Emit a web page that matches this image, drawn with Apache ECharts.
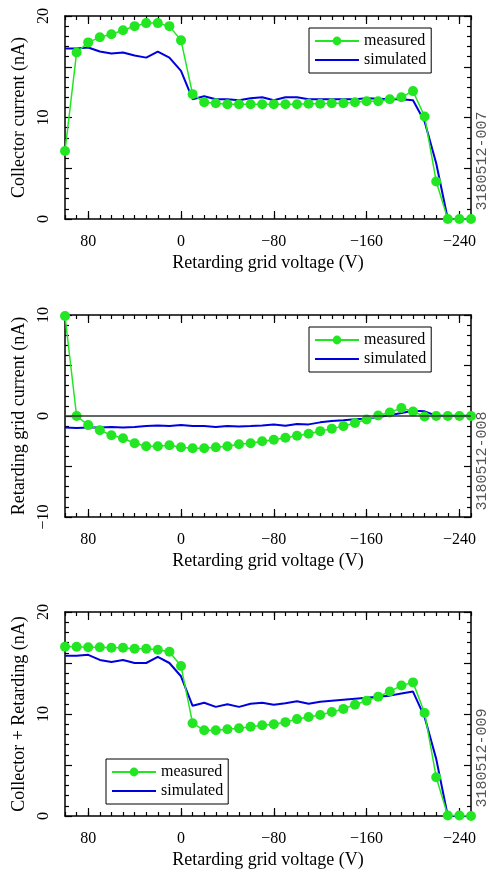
<!DOCTYPE html>
<html>
<head>
<meta charset="utf-8">
<script src="https://cdn.jsdelivr.net/npm/echarts@6/dist/echarts.min.js"></script>
<style>
html,body{margin:0;padding:0;background:#fff;}
#chart{width:487px;height:871px;}
</style>
</head>
<body>
<div id="chart"></div>
<script>
// Retarding grid voltage (V)
var voltages = [100, 90, 80, 70, 60, 50, 40, 30, 20, 10, 0, -10, -20, -30, -40, -50, -60, -70, -80, -90,
  -100, -110, -120, -130, -140, -150, -160, -170, -180, -190, -200, -210, -220, -230, -240, -250];

var collectorMeasured = [6.7, 16.4, 17.4, 17.9, 18.2, 18.6, 19.0, 19.3, 19.3, 19.0, 17.6, 12.3, 11.5, 11.4, 11.3, 11.3, 11.3, 11.3, 11.3, 11.3,
  11.3, 11.35, 11.35, 11.4, 11.4, 11.5, 11.6, 11.6, 11.8, 12.0, 12.6, 10.1, 3.7, 0, 0, 0];
var collectorSimulated = [16.8, 16.8, 16.9, 16.5, 16.3, 16.4, 16.1, 15.9, 16.5, 15.9, 14.6, 11.8, 12.1, 11.8, 11.8, 11.7, 11.9, 12.0, 11.7, 12.0,
  12.0, 11.8, 11.8, 11.8, 11.8, 11.8, 11.9, 11.85, 11.8, 11.8, 11.7, 9.6, 5.5, 0, 0, 0];

var gridMeasured = [9.9, 0.0, -0.9, -1.4, -1.9, -2.2, -2.7, -3.0, -3.0, -2.9, -3.1, -3.2, -3.2, -3.1, -3.0, -2.8, -2.7, -2.5, -2.35, -2.15,
  -1.95, -1.75, -1.5, -1.25, -1.0, -0.7, -0.35, 0.05, 0.35, 0.8, 0.45, -0.05, 0, 0, 0, 0];
var gridSimulated = [-1.15, -1.2, -1.15, -1.15, -1.1, -1.15, -1.1, -1.0, -0.95, -1.0, -0.9, -1.0, -1.0, -1.1, -1.0, -1.05, -1.0, -0.93, -0.83, -0.96,
  -0.8, -0.83, -0.63, -0.5, -0.43, -0.33, -0.26, -0.1, 0.07, 0.3, 0.53, 0.46, 0.03, 0.03, 0.03, 0.03];

var sumMeasured = [16.6, 16.6, 16.55, 16.55, 16.5, 16.5, 16.4, 16.4, 16.3, 16.1, 14.7, 9.1, 8.4, 8.4, 8.5, 8.6, 8.75, 8.9, 9.0, 9.2,
  9.5, 9.7, 9.9, 10.2, 10.5, 10.9, 11.3, 11.7, 12.2, 12.8, 13.1, 10.1, 3.8, 0.05, 0.05, 0];
var sumSimulated = [15.7, 15.7, 15.8, 15.3, 15.1, 15.3, 15.0, 15.0, 15.6, 15.0, 13.7, 10.8, 11.1, 10.7, 10.95, 10.7, 11.0, 11.1, 10.9, 11.05,
  11.25, 11.0, 11.2, 11.3, 11.4, 11.5, 11.6, 11.7, 11.8, 12.0, 12.2, 9.7, 5.6, 0, 0, 0];

var xTickLabels = [80, 0, -80, -160, -240];
var xLabel = 'Retarding grid voltage (V)';
var yLabels = ['Collector current (nA)', 'Retarding grid current (nA)', 'Collector + Retarding (nA)'];
var yRanges = [[0, 20], [-10, 10], [0, 20]];
var figureIds = ['3180512-007', '3180512-008', '3180512-009'];
var seriesNames = ['measured', 'simulated'];

var FONT = '"Liberation Serif", "DejaVu Serif", serif';
var MONO = '"Liberation Mono", "DejaVu Sans Mono", monospace';
var GREEN = '#22e622';
var BLUE = '#0000dd';
var grids = [
  {left: 65, right: 16, top: 16, height: 203},
  {left: 65, right: 16, top: 315, height: 202},
  {left: 65, right: 16, top: 612, height: 204}
];
var legendPos = [{left: 309, top: 28}, {left: 309, top: 327}, {left: 106, top: 759}];
var annotY = [161, 461, 758];

function fmt(v) { return v < 0 ? '\u2212' + Math.abs(v) : String(v); }

var xAxes = [], yAxes = [], series = [], legends = [], graphics = [];
var axisLineStyle = {color: '#000', width: 1.5};
var tickStyle = {color: '#000', width: 1.2};

grids.forEach(function (g, gi) {
  var baseX = {gridIndex: gi, type: 'value', min: -250, max: 100, inverse: true, splitLine: {show: false}};
  xAxes.push(Object.assign({}, baseX, {
    position: 'bottom',
    axisLine: {onZero: false, lineStyle: axisLineStyle},
    axisTick: {inside: true, length: 8, customValues: xTickLabels, lineStyle: tickStyle},
    axisLabel: {customValues: xTickLabels, formatter: fmt, fontSize: 16, color: '#000', fontFamily: FONT, margin: 15},
    name: xLabel, nameLocation: 'middle', nameGap: 35,
    nameTextStyle: {fontSize: 18, color: '#000', fontFamily: FONT}
  }));
  xAxes.push(Object.assign({}, baseX, {
    position: 'bottom', interval: 10,
    axisLine: {show: false, onZero: false},
    axisTick: {inside: true, length: 4, lineStyle: tickStyle},
    axisLabel: {show: false}
  }));
  xAxes.push(Object.assign({}, baseX, {
    position: 'top',
    axisLine: {onZero: false, lineStyle: axisLineStyle},
    axisTick: {inside: true, length: 8, customValues: xTickLabels, lineStyle: tickStyle},
    axisLabel: {show: false}
  }));
  xAxes.push(Object.assign({}, baseX, {
    position: 'top', interval: 10,
    axisLine: {show: false, onZero: false},
    axisTick: {inside: true, length: 4, lineStyle: tickStyle},
    axisLabel: {show: false}
  }));

  var r = yRanges[gi];
  var baseY = {gridIndex: gi, type: 'value', min: r[0], max: r[1], interval: 5, splitLine: {show: false},
    axisLine: {onZero: false, lineStyle: axisLineStyle},
    axisTick: {inside: true, length: 7, lineStyle: tickStyle},
    minorTick: {show: true, splitNumber: 5, length: 4, lineStyle: tickStyle}};
  yAxes.push(Object.assign({}, baseY, {
    position: 'left',
    axisLabel: {rotate: 90, margin: 13, fontSize: 16, color: '#000', fontFamily: FONT,
      formatter: function (v) { return v % 10 === 0 ? fmt(v) : ''; }},
    name: yLabels[gi], nameLocation: 'middle', nameGap: 36, nameRotate: 90,
    nameTextStyle: {fontSize: 18, color: '#000', fontFamily: FONT}
  }));
  yAxes.push(Object.assign({}, baseY, {position: 'right', axisLabel: {show: false}}));

  var meas = [collectorMeasured, gridMeasured, sumMeasured][gi];
  var sim = [collectorSimulated, gridSimulated, sumSimulated][gi];
  var simSeries = {
    name: seriesNames[1], type: 'line', xAxisIndex: gi * 4, yAxisIndex: gi * 2,
    data: voltages.map(function (v, i) { return [v, sim[i]]; }),
    symbol: 'none', clip: false, color: BLUE,
    lineStyle: {color: BLUE, width: 2}, animation: false, z: 3
  };
  if (gi === 1) {
    simSeries.markLine = {silent: true, symbol: ['none', 'none'], label: {show: false},
      lineStyle: {color: '#333', width: 1.5, type: 'solid'}, data: [{yAxis: 0}], animation: false};
  }
  series.push(simSeries);
  series.push({
    name: seriesNames[0], type: 'line', xAxisIndex: gi * 4, yAxisIndex: gi * 2,
    data: voltages.map(function (v, i) { return [v, meas[i]]; }),
    symbol: 'circle', symbolSize: 10, showSymbol: true, clip: false, color: GREEN,
    itemStyle: {color: GREEN}, lineStyle: {color: GREEN, width: 1.5}, animation: false, z: 4
  });

  legends.push({
    left: legendPos[gi].left, top: legendPos[gi].top, orient: 'vertical',
    data: [{name: seriesNames[0]}, {name: seriesNames[1], itemStyle: {opacity: 0}}],
    itemWidth: 44, itemHeight: 11, itemGap: 3, padding: [5, 5, 5, 5],
    borderColor: '#000', borderWidth: 1, backgroundColor: '#fff', selectedMode: false,
    textStyle: {fontSize: 16, color: '#000', fontFamily: FONT}
  });

  graphics.push({
    type: 'text', x: 482, y: annotY[gi], rotation: Math.PI / 2,
    style: {text: figureIds[gi], fontSize: 15, fontFamily: MONO,
      fill: '#555', align: 'center', verticalAlign: 'middle'}
  });
});

var chart = echarts.init(document.getElementById('chart'), null, {renderer: 'canvas'});
chart.setOption({
  animation: false,
  backgroundColor: '#fff',
  textStyle: {fontFamily: FONT},
  grid: grids.map(function (g) { return Object.assign({outerBoundsMode: 'none'}, g); }),
  xAxis: xAxes,
  yAxis: yAxes,
  legend: legends,
  series: series,
  graphic: graphics
});
</script>
</body>
</html>
